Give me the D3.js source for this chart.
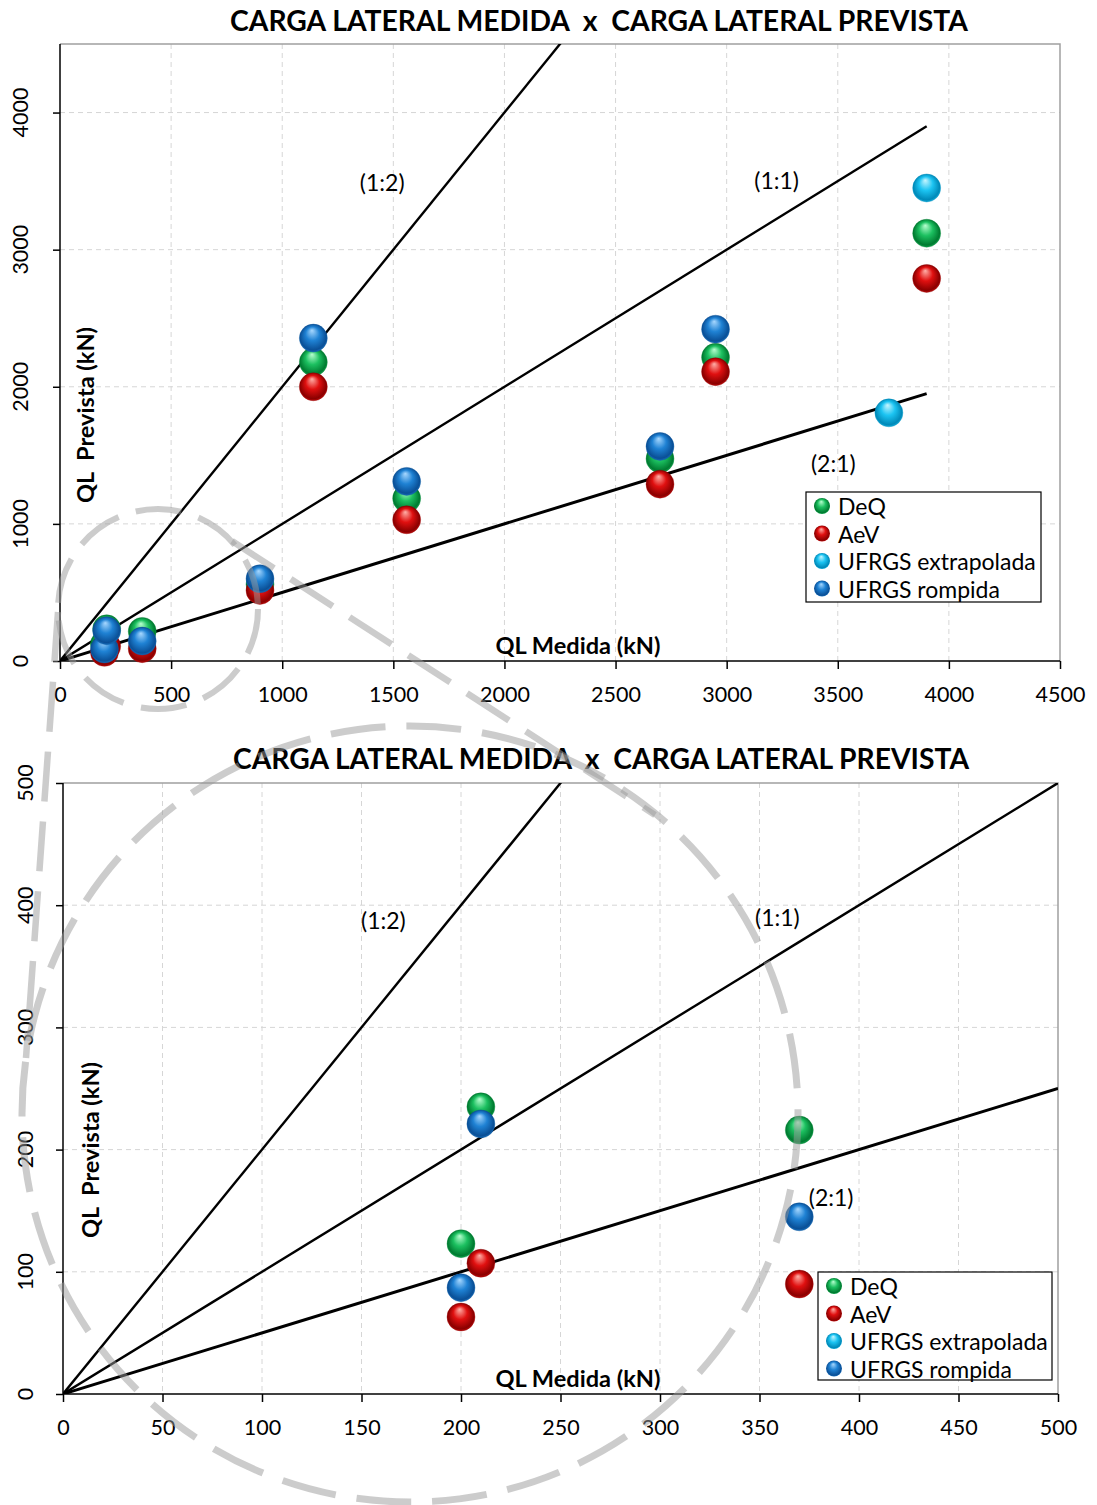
<!DOCTYPE html>
<html>
<head>
<meta charset="utf-8">
<script src="https://cdn.jsdelivr.net/npm/d3@7"></script>
<style>
  html, body { margin: 0; padding: 0; background: #fff; }
  svg { display: block; }
  text { font-family: Lato, "Open Sans", sans-serif; fill: #000; }
</style>
</head>
<body>
<svg id="chart" width="1097" height="1505"></svg>
<script>
// ---- data: measured vs predicted lateral load (kN) ----
const seriesNames = ["DeQ", "AeV", "UFRGS extrapolada", "UFRGS rompida"];

const deqMedida  = [200, 210, 370, 900, 1140, 1560, 2700, 2950, 3900];
const deqPrevista = [123, 235, 216, 560, 2180, 1185, 1475, 2215, 3120];

const aevMedida  = [200, 210, 370, 900, 1140, 1560, 2700, 2950, 3900];
const aevPrevista = [63, 107, 90, 515, 2000, 1030, 1290, 2110, 2790];

const extrapMedida  = [3730, 3900];
const extrapPrevista = [1810, 3450];

const rompMedida  = [200, 210, 370, 900, 1140, 1560, 2700, 2950];
const rompPrevista = [87, 221, 145, 600, 2355, 1310, 1565, 2420];

// reference ratio lines  (predicted = slope * measured)
const ratioLabels = ["(1:2)", "(1:1)", "(2:1)"];
const ratioSlopes = [2, 1, 0.5];

// tick values
const xTicksFull = [0, 500, 1000, 1500, 2000, 2500, 3000, 3500, 4000, 4500];
const yTicksFull = [0, 1000, 2000, 3000, 4000];
const xTicksZoom = [0, 50, 100, 150, 200, 250, 300, 350, 400, 450, 500];
const yTicksZoom = [0, 100, 200, 300, 400, 500];

const chartTitle = "CARGA LATERAL MEDIDA  x  CARGA LATERAL PREVISTA";
const xTitle = "QL Medida (kN)";
const yTitle = "QL  Prevista (kN)";

// ---- styling ----
const ballColors = [
  { hi: "#b8ffd0", mid: "#1cc060", lo: "#007a30" },   // DeQ
  { hi: "#ffb0a8", mid: "#e01010", lo: "#8a0000" },   // AeV
  { hi: "#c8f6ff", mid: "#1cc4f2", lo: "#0089b8" },   // UFRGS extrapolada
  { hi: "#a8d8ff", mid: "#1f82d4", lo: "#0a4f96" }    // UFRGS rompida
];

const series = [
  { name: seriesNames[0], xs: deqMedida, ys: deqPrevista },
  { name: seriesNames[1], xs: aevMedida, ys: aevPrevista },
  { name: seriesNames[2], xs: extrapMedida, ys: extrapPrevista },
  { name: seriesNames[3], xs: rompMedida, ys: rompPrevista }
];

const svg = d3.select("#chart");
const defs = svg.append("defs");

ballColors.forEach((c, i) => {
  const gr = defs.append("radialGradient")
    .attr("id", "ball" + i)
    .attr("cx", "50%").attr("cy", "50%").attr("r", "55%")
    .attr("fx", "45%").attr("fy", "22%");
  gr.append("stop").attr("offset", "0%").attr("stop-color", c.hi);
  gr.append("stop").attr("offset", "45%").attr("stop-color", c.mid);
  gr.append("stop").attr("offset", "85%").attr("stop-color", c.lo);
  gr.append("stop").attr("offset", "100%").attr("stop-color", c.mid);
});

function drawChart(cfg) {
  const g = svg.append("g");
  const x = d3.scaleLinear().domain(cfg.xDomain).range([cfg.left, cfg.right]);
  const y = d3.scaleLinear().domain(cfg.yDomain).range([cfg.bottom, cfg.top]);

  const clipId = "clip" + cfg.id;
  defs.append("clipPath").attr("id", clipId)
    .append("rect")
    .attr("x", cfg.left).attr("y", cfg.top)
    .attr("width", cfg.right - cfg.left).attr("height", cfg.bottom - cfg.top);

  // title
  g.append("text")
    .attr("x", cfg.titleX).attr("y", cfg.titleY)
    .attr("text-anchor", "middle")
    .attr("font-size", 28).attr("font-weight", 700)
    .attr("textLength", cfg.titleLen).attr("lengthAdjust", "spacingAndGlyphs")
    .style("white-space", "pre")
    .text(chartTitle);

  // gridlines
  const grid = g.append("g").attr("stroke", "#d6d6d6").attr("stroke-width", 1)
    .attr("stroke-dasharray", "5,4");
  grid.selectAll("line.v").data(cfg.xTicks.slice(1, -1)).join("line")
    .attr("x1", d => x(d)).attr("x2", d => x(d))
    .attr("y1", cfg.top).attr("y2", cfg.bottom);
  grid.selectAll("line.h").data(cfg.yTicks.filter(d => d > cfg.yDomain[0] && d < cfg.yDomain[1])).join("line")
    .attr("x1", cfg.left).attr("x2", cfg.right)
    .attr("y1", d => y(d)).attr("y2", d => y(d));

  // plot-area border (top, right)
  g.append("path")
    .attr("d", `M${cfg.left},${cfg.top}H${cfg.right}V${cfg.bottom}`)
    .attr("fill", "none").attr("stroke", "#a0a0a0").attr("stroke-width", 1.5);

  // axes
  const xAxis = d3.axisBottom(x).tickValues(cfg.xTicks).tickSize(8).tickFormat(d3.format("d"));
  const yAxis = d3.axisLeft(y).tickValues(cfg.yTicks).tickSize(7).tickFormat("");
  const gx = g.append("g").attr("transform", `translate(0,${cfg.bottom})`).call(xAxis);
  gx.select(".domain").attr("d", `M${cfg.left},0H${cfg.right}`).attr("stroke-width", 1.5);
  gx.selectAll(".tick line").attr("stroke-width", 1.5);
  gx.selectAll(".tick text").attr("y", 26).attr("font-size", 21.5)
    .attr("font-family", "Lato, sans-serif").attr("fill", "#000");
  const gy = g.append("g").attr("transform", `translate(${cfg.left},0)`).call(yAxis);
  gy.select(".domain").attr("d", `M0,${cfg.top}V${cfg.bottom}`).attr("stroke-width", 1.5);
  gy.selectAll(".tick line").attr("stroke-width", 1.5);

  // rotated y tick labels
  g.selectAll("text.ylab").data(cfg.yTicks).join("text")
    .attr("class", "ylab")
    .attr("transform", d => `translate(${cfg.yLabelX},${y(d)}) rotate(-90)`)
    .attr("text-anchor", "middle").attr("dominant-baseline", "central")
    .attr("font-size", 21.5)
    .text(d => d);

  // axis titles
  g.append("text")
    .attr("x", cfg.xTitleX).attr("y", cfg.xTitleY)
    .attr("text-anchor", "middle").attr("dominant-baseline", "central")
    .attr("font-size", 22).attr("font-weight", 700)
    .attr("textLength", 165).attr("lengthAdjust", "spacingAndGlyphs")
    .text(xTitle);
  g.append("text")
    .attr("transform", `translate(${cfg.yTitleX},${cfg.yTitleY}) rotate(-90)`)
    .attr("text-anchor", "middle").attr("dominant-baseline", "central")
    .attr("font-size", 22).attr("font-weight", 700)
    .attr("textLength", 176).attr("lengthAdjust", "spacingAndGlyphs")
    .style("white-space", "pre")
    .text(yTitle);

  // ratio lines
  const lineG = g.append("g").attr("clip-path", `url(#${clipId})`);
  lineG.selectAll("line").data(ratioSlopes).join("line")
    .attr("x1", x(0)).attr("y1", y(0))
    .attr("x2", x(cfg.lineEnd)).attr("y2", s => y(s * cfg.lineEnd))
    .attr("stroke", "#000")
    .attr("stroke-width", (s, i) => i === 2 ? 3 : 2.4);

  // ratio labels
  g.selectAll("text.ratio").data(ratioLabels).join("text")
    .attr("class", "ratio")
    .attr("x", (d, i) => x(cfg.ratioPos[i][0]))
    .attr("y", (d, i) => y(cfg.ratioPos[i][1]))
    .attr("text-anchor", "middle").attr("dominant-baseline", "central")
    .attr("font-size", 23)
    .text(d => d);

  // points (spheres)
  const ptsG = g.append("g");
  series.forEach((s, si) => {
    const pts = s.xs.map((v, k) => [v, s.ys[k]])
      .filter(p => p[0] <= cfg.xDomain[1] && p[1] <= cfg.yDomain[1]);
    ptsG.append("g").selectAll("circle").data(pts).join("circle")
      .attr("cx", p => x(p[0])).attr("cy", p => y(p[1]))
      .attr("r", 14)
      .attr("fill", `url(#ball${si})`)
      .attr("stroke", ballColors[si].lo).attr("stroke-opacity", 0.35).attr("stroke-width", 1);
  });

  // legend
  const L = cfg.legend;
  const lg = g.append("g");
  lg.append("rect")
    .attr("x", L.x).attr("y", L.y).attr("width", L.w).attr("height", L.h)
    .attr("fill", "#fff").attr("stroke", "#000").attr("stroke-width", 1.2);
  seriesNames.forEach((n, i) => {
    const cy = L.y + 14 + i * 27.5;
    lg.append("circle").attr("cx", L.x + 16).attr("cy", cy).attr("r", 8)
      .attr("fill", `url(#ball${i})`);
    lg.append("text").attr("x", L.x + 32).attr("y", cy)
      .attr("dominant-baseline", "central").attr("font-size", 23)
      .text(n);
  });
}

drawChart({
  id: "full",
  left: 60, right: 1060, top: 44, bottom: 661,
  xDomain: [0, 4500], yDomain: [0, 4500],
  xTicks: xTicksFull, yTicks: yTicksFull,
  yLabelX: 20,
  titleX: 599, titleY: 31, titleLen: 738,
  xTitleX: 578, xTitleY: 645,
  yTitleX: 85, yTitleY: 415,
  lineEnd: 3900,
  ratioPos: [[1450, 3490], [3225, 3510], [3480, 1447]],
  legend: { x: 806, y: 492, w: 235, h: 110 }
});

drawChart({
  id: "zoom",
  left: 63, right: 1058, top: 783, bottom: 1394,
  xDomain: [0, 500], yDomain: [0, 500],
  xTicks: xTicksZoom, yTicks: yTicksZoom,
  yLabelX: 25,
  titleX: 601, titleY: 769, titleLen: 736,
  xTitleX: 578, xTitleY: 1378,
  yTitleX: 90, yTitleY: 1150,
  lineEnd: 500,
  ratioPos: [[161, 388], [359, 390], [386, 161]],
  legend: { x: 818, y: 1272, w: 234, h: 108 }
});

// dashed callout: small circle around the origin cluster, enlarged view circle, connectors
const callout = svg.append("g")
  .attr("fill", "none").attr("stroke", "#9a9a9a").attr("stroke-opacity", 0.5)
  .attr("stroke-linecap", "butt");
callout.append("circle").attr("cx", 158).attr("cy", 609).attr("r", 100)
  .attr("stroke-width", 6).attr("stroke-dasharray", "46,18");
callout.append("circle").attr("cx", 410).attr("cy", 1114).attr("r", 388)
  .attr("stroke-width", 7).attr("stroke-dasharray", "55,21");
callout.append("line").attr("x1", 58).attr("y1", 612).attr("x2", 26).attr("y2", 1058)
  .attr("stroke-width", 6.5).attr("stroke-dasharray", "50,20");
callout.append("line").attr("x1", 232).attr("y1", 541).attr("x2", 655).attr("y2", 815)
  .attr("stroke-width", 6.5).attr("stroke-dasharray", "50,20");
</script>
</body>
</html>
